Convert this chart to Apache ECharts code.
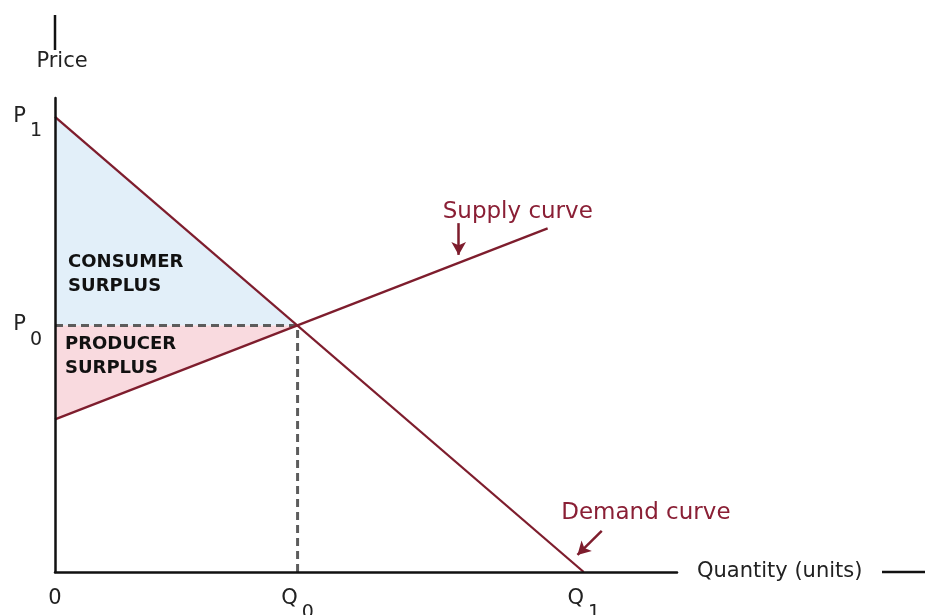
<!DOCTYPE html>
<html>
<head>
<meta charset="utf-8">
<script src="https://cdn.jsdelivr.net/npm/echarts@6/dist/echarts.min.js"></script>
<style>
    html, body { margin: 0; padding: 0; background: #fff; }
    #chart { width: 925px; height: 615px; }
</style>
</head>
<body>
<div id="chart"></div>
<script>
// equilibrium values (chart units, axis runs 0..10 both ways)
var q0 = 3.9, q1 = 8.5, p0 = 5.2, p1 = 9.6;
var demandPts = [[0, 9.6], [8.5, 0]];
var supplyPts = [[0, 3.22], [7.92, 7.25]];
var consumerArea = [[0, 9.6], [3.9, 5.2], [0, 5.2]];
var producerArea = [[0, 5.2], [3.9, 5.2], [0, 3.22]];
var guidePts = [[0, 5.2], [3.9, 5.2], [3.9, 0]];

var xTickValues = [0, 3.9, 8.5];
var xTickLabels = ['{m|0}', '{m|Q}{s|0}', '{m|Q}{s|1}'];
var yTickValues = [5.2, 9.6];
var yTickLabels = ['{m|P}{s|0}', '{m|P}{s|1}'];

// annotations
var curveLabels = [
    { name: 'Supply curve', value: [7.44, 7.59] },
    { name: 'Demand curve', value: [9.5, 1.25] }
];
var surplusLabels = [
    { name: 'CONSUMER\nSURPLUS', value: [0.21, 6.29] },
    { name: 'PRODUCER\nSURPLUS', value: [0.16, 4.56] }
];
var supplyArrow = [[6.49, 7.36], [6.49, 6.69]];
var demandArrow = [[8.79, 0.87], [8.4, 0.36]];

var RED = '#7e1d2d';
var FONT = 'DejaVu Sans';

function pickLabel(values, labels, v) {
    for (var i = 0; i < values.length; i++) {
        if (Math.abs(values[i] - v) < 1e-6) return labels[i];
    }
    return '';
}

var tickRich = {
    m: { fontFamily: FONT, fontSize: 21, lineHeight: 22, color: '#222', verticalAlign: 'top' },
    s: { fontFamily: FONT, fontSize: 19, lineHeight: 22, color: '#222', verticalAlign: 'top', padding: [16, 0, 0, 4] }
};

function polygonItem(points, color) {
    return function (params, api) {
        if (params.dataIndex !== 0) return null;
        var pts = [];
        for (var i = 0; i < points.length; i++) pts.push(api.coord(points[i]));
        return { type: 'polygon', shape: { points: pts }, style: { fill: color } };
    };
}

var chart = echarts.init(document.getElementById('chart'));
var option = {
    animation: false,
    grid: { left: 55, top: 98, right: 248, bottom: 43, outerBoundsMode: 'none' },
    xAxis: {
        type: 'value',
        min: 0,
        max: 10,
        z: 5,
        name: 'Quantity (units)',
        nameLocation: 'end',
        nameGap: 20,
        nameTextStyle: { fontFamily: FONT, fontSize: 21, color: '#222' },
        axisLine: { show: true, lineStyle: { color: '#111', width: 2.5 } },
        axisTick: { show: false },
        splitLine: { show: false },
        axisLabel: {
            customValues: xTickValues,
            margin: 16,
            formatter: function (v) { return pickLabel(xTickValues, xTickLabels, v); },
            rich: tickRich
        }
    },
    yAxis: {
        type: 'value',
        min: 0,
        max: 10,
        z: 5,
        name: 'Price',
        nameLocation: 'end',
        nameGap: 26,
        nameTextStyle: { fontFamily: FONT, fontSize: 21, color: '#222', padding: [0, 0, 0, 14] },
        axisLine: { show: true, lineStyle: { color: '#111', width: 2.5 } },
        axisTick: { show: false },
        splitLine: { show: false },
        axisLabel: {
            customValues: yTickValues,
            margin: 13,
            formatter: function (v) { return pickLabel(yTickValues, yTickLabels, v); },
            rich: tickRich
        }
    },
    graphic: [
        { type: 'line', shape: { x1: 55, y1: 15, x2: 55, y2: 50 }, style: { stroke: '#111', lineWidth: 2.5 } },
        { type: 'line', shape: { x1: 882, y1: 572, x2: 925, y2: 572 }, style: { stroke: '#111', lineWidth: 2.5 } }
    ],
    series: [
        {
            type: 'custom',
            renderItem: polygonItem(consumerArea, '#e2eff9'),
            data: consumerArea,
            silent: true,
            z: 1
        },
        {
            type: 'custom',
            renderItem: polygonItem(producerArea, '#f9dadf'),
            data: producerArea,
            silent: true,
            z: 1
        },
        {
            type: 'line',
            data: guidePts,
            symbol: 'none',
            lineStyle: { color: '#5c5c5c', width: 3, type: [8, 5] },
            z: 2
        },
        {
            type: 'line',
            data: demandPts,
            symbol: 'none',
            lineStyle: { color: RED, width: 2.3 },
            z: 3,
            markLine: {
                silent: true,
                symbol: ['none', 'arrow'],
                symbolSize: [11, 13],
                label: { show: false },
                lineStyle: { color: RED, width: 2.5, type: 'solid' },
                data: [
                    [{ coord: supplyArrow[0] }, { coord: supplyArrow[1] }],
                    [{ coord: demandArrow[0] }, { coord: demandArrow[1] }]
                ]
            }
        },
        {
            type: 'line',
            data: supplyPts,
            symbol: 'none',
            lineStyle: { color: RED, width: 2.3 },
            z: 3
        },
        {
            type: 'scatter',
            data: curveLabels,
            symbolSize: 0,
            itemStyle: { opacity: 1 },
            z: 4,
            label: {
                show: true,
                position: 'inside',
                formatter: '{b}',
                fontFamily: FONT,
                fontSize: 23,
                color: '#8a1f35'
            }
        },
        {
            type: 'scatter',
            data: surplusLabels,
            symbolSize: 0,
            itemStyle: { opacity: 1 },
            z: 4,
            label: {
                show: true,
                position: 'right',
                distance: 0,
                formatter: '{b}',
                fontFamily: FONT,
                fontWeight: 'bold',
                fontSize: 18,
                lineHeight: 24,
                color: '#111'
            }
        }
    ]
};
chart.setOption(option);
</script>
</body>
</html>
